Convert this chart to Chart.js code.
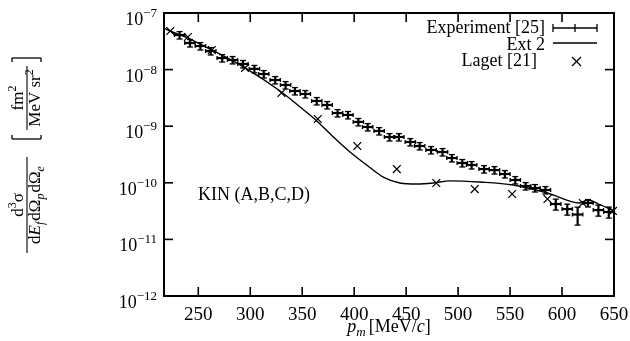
<!DOCTYPE html>
<html>
<head>
<meta charset="utf-8">
<script src="https://cdn.jsdelivr.net/npm/chart.js@4.4.0/dist/chart.umd.min.js"></script>
<style>
  html, body { margin: 0; background: #fff; }
</style>
</head>
<body>
<canvas id="myChart" width="630" height="341"></canvas>
<script>
// data
const xTicks = [250, 300, 350, 400, 450, 500, 550, 600, 650];
const yExponents = [-12, -11, -10, -9, -8, -7];

// Experiment [25], p_m in MeV/c, cross section, relative error
const expP = [232, 242, 252, 262, 273, 283, 293, 304, 313, 324, 334, 343, 353, 364, 374, 384, 394, 404, 413, 424,
  434, 443, 454, 463, 474, 485, 494, 504, 513, 525, 535, 545, 555, 565, 574, 584, 594, 605, 615, 625, 635, 645];
const expVal = [4.08e-8, 2.95e-8, 2.61e-8, 2.13e-8, 1.60e-8, 1.48e-8, 1.26e-8, 1.03e-8, 8.36e-9, 6.55e-9,
  5.34e-9, 4.19e-9, 3.71e-9, 2.79e-9, 2.37e-9, 1.71e-9, 1.58e-9, 1.19e-9, 9.68e-10, 8.22e-10,
  6.44e-10, 6.44e-10, 5.26e-10, 4.47e-10, 3.80e-10, 3.50e-10, 2.74e-10, 2.24e-10, 2.06e-10, 1.75e-10,
  1.68e-10, 1.43e-10, 1.12e-10, 8.77e-11, 8.09e-11, 7.46e-11, 4.22e-11, 3.44e-11, 2.75e-11, 4.40e-11,
  3.30e-11, 3.05e-11];
const expErr = [0.15, 0.15, 0.15, 0.15, 0.15, 0.15, 0.15, 0.15, 0.15, 0.15, 0.15, 0.15, 0.15, 0.15, 0.15,
  0.15, 0.15, 0.15, 0.15, 0.15, 0.15, 0.15, 0.15, 0.15, 0.15, 0.15, 0.15, 0.15, 0.15, 0.15, 0.15, 0.15,
  0.15, 0.15, 0.15, 0.15, 0.22, 0.22, 0.35, 0.15, 0.22, 0.22];
const expBin = 5; // half width of the p_m bin

// Ext 2 curve
const ext2P = [217, 223, 240, 263, 295, 330, 348, 364, 380, 396, 412, 428, 444, 460, 476, 492, 521, 553, 586, 617, 625, 637, 650];
const ext2Val = [5.43e-8, 4.81e-8, 3.61e-8, 2.22e-8, 1.07e-8, 4.02e-9, 2.18e-9, 1.24e-9, 6.44e-10, 3.50e-10,
  2.06e-10, 1.26e-10, 9.91e-11, 9.52e-11, 9.91e-11, 1.08e-10, 1.03e-10, 9.14e-11, 6.61e-11, 4.40e-11,
  4.97e-11, 4.06e-11, 3.18e-11];

// Laget [21]
const lagetP = [223, 240, 263, 295, 330, 365, 403, 441, 479, 516, 552, 586, 620, 649];
const lagetVal = [4.81e-8, 3.77e-8, 2.22e-8, 1.07e-8, 3.86e-9, 1.34e-9, 4.47e-10, 1.75e-10, 9.91e-11,
  7.76e-11, 6.34e-11, 5.17e-11, 4.40e-11, 3.18e-11];

const SERIF = '"Liberation Serif", "Times New Roman", serif';

// draws a run of text pieces (for super/subscripts)
function drawRich(c, parts, x, y, align) {
  let w = 0;
  parts.forEach(p => { c.font = p.f; w += c.measureText(p.t).width + (p.gap || 0); });
  let cx = align === 'right' ? x - w : align === 'center' ? x - w / 2 : x;
  parts.forEach(p => {
    c.font = p.f;
    c.fillText(p.t, cx, y + (p.dy || 0));
    cx += c.measureText(p.t).width + (p.gap || 0);
  });
  return w;
}

function line(c, x1, y1, x2, y2) {
  c.beginPath();
  c.moveTo(x1, y1);
  c.lineTo(x2, y2);
  c.stroke();
}

const errorBars = {
  id: 'errorBars',
  afterDatasetsDraw(chart) {
    const c = chart.ctx, xs = chart.scales.x, ys = chart.scales.y;
    c.save();
    c.strokeStyle = '#000';
    expP.forEach((p, i) => {
      const v = expVal[i];
      const px = xs.getPixelForValue(p), py = ys.getPixelForValue(v);
      const xl = xs.getPixelForValue(p - expBin), xr = xs.getPixelForValue(p + expBin);
      const yl = ys.getPixelForValue(v * (1 - expErr[i])), yh = ys.getPixelForValue(v * (1 + expErr[i]));
      c.lineWidth = 2.2;
      line(c, xl, py, xr, py);
      line(c, px, yl, px, yh);
      c.lineWidth = 1.3;
      line(c, px - 3, yl, px + 3, yl);
      line(c, px - 3, yh, px + 3, yh);
      line(c, xl, py - 2, xl, py + 2);
      line(c, xr, py - 2, xr, py + 2);
    });
    c.restore();
  }
};

const decorations = {
  id: 'decorations',
  afterDraw(chart) {
    const c = chart.ctx, a = chart.chartArea, xs = chart.scales.x, ys = chart.scales.y;
    c.save();
    c.strokeStyle = '#000';
    c.fillStyle = '#000';
    c.textAlign = 'left';
    c.textBaseline = 'alphabetic';

    // frame and inward ticks
    c.lineWidth = 2;
    c.strokeRect(a.left, a.top, a.right - a.left, a.bottom - a.top);
    c.lineWidth = 1.6;
    xTicks.forEach(t => {
      const px = xs.getPixelForValue(t);
      line(c, px, a.bottom, px, a.bottom - 9);
      line(c, px, a.top, px, a.top + 9);
      drawRich(c, [{ t: String(t), f: '19px ' + SERIF }], px, 320, 'center');
    });
    yExponents.forEach(e => {
      const py = ys.getPixelForValue(Math.pow(10, e));
      line(c, a.left, py, a.left + 9, py);
      line(c, a.right, py, a.right - 9, py);
      drawRich(c, [
        { t: '10', f: '18px ' + SERIF },
        { t: '\u2212' + Math.abs(e), f: '13px ' + SERIF, dy: -8 }
      ], 157, py + 12, 'right');
    });

    // x axis title
    drawRich(c, [
      { t: 'p', f: 'italic 18px ' + SERIF },
      { t: 'm', f: 'italic 13px ' + SERIF, dy: 4, gap: 3 },
      { t: '[MeV/', f: '18px ' + SERIF },
      { t: 'c', f: 'italic 18px ' + SERIF },
      { t: ']', f: '18px ' + SERIF }
    ], (a.left + a.right) / 2, 332, 'center');

    // y axis title, rotated
    c.save();
    c.translate(27, 155);
    c.rotate(-Math.PI / 2);
    c.lineWidth = 1.1;
    const f17 = '17px ' + SERIF, i17 = 'italic 17px ' + SERIF, s12 = '12px ' + SERIF, is12 = 'italic 12px ' + SERIF;
    drawRich(c, [
      { t: 'd', f: f17 }, { t: '3', f: s12, dy: -7 }, { t: '\u03c3', f: f17 }
    ], -50, -4, 'center');
    line(c, -98, 0, -2, 0);
    drawRich(c, [
      { t: 'd', f: f17 }, { t: 'E', f: i17 }, { t: 'f', f: is12, dy: 4, gap: 1 },
      { t: 'd\u03a9', f: f17 }, { t: 'p', f: is12, dy: 4, gap: 1 },
      { t: 'd\u03a9', f: f17 }, { t: 'e', f: is12, dy: 4 }
    ], -50, 13, 'center');
    // bracketed unit
    drawRich(c, [
      { t: 'fm', f: f17 }, { t: '2', f: s12, dy: -7 }
    ], 57, -4, 'center');
    line(c, 25, 0, 89, 0);
    drawRich(c, [
      { t: 'MeV sr', f: f17 }, { t: '2', f: s12, dy: -7 }
    ], 57, 13, 'center');
    c.lineWidth = 1.3;
    line(c, 16, -15, 16, 14);
    line(c, 16, -15, 20, -15);
    line(c, 16, 14, 20, 14);
    line(c, 97, -15, 97, 14);
    line(c, 97, -15, 93, -15);
    line(c, 97, 14, 93, 14);
    c.restore();

    // label inside the plot
    drawRich(c, [{ t: 'KIN (A,B,C,D)', f: '18px ' + SERIF }], 198, 200, 'left');

    // legend
    c.lineWidth = 1.3;
    drawRich(c, [{ t: 'Experiment [25]', f: '18px ' + SERIF }], 545, 33, 'right');
    line(c, 553, 28, 597, 28);
    [553, 575, 597].forEach(x => line(c, x, 24, x, 32));
    drawRich(c, [{ t: 'Ext 2', f: '18px ' + SERIF }], 545, 50, 'right');
    line(c, 553, 43, 597, 43);
    drawRich(c, [{ t: 'Laget [21]', f: '18px ' + SERIF }], 537, 66, 'right');
    line(c, 572, 57, 581, 66);
    line(c, 572, 66, 581, 57);
    c.restore();
  }
};

const ctx = document.getElementById('myChart');

new Chart(ctx, {
  type: 'scatter',
  data: {
    datasets: [
      {
        label: 'Experiment [25]',
        data: expP.map((p, i) => ({ x: p, y: expVal[i] })),
        pointRadius: 0,
        showLine: false
      },
      {
        label: 'Ext 2',
        data: ext2P.map((p, i) => ({ x: p, y: ext2Val[i] })),
        showLine: true,
        pointRadius: 0,
        borderColor: '#000',
        borderWidth: 1.4,
        cubicInterpolationMode: 'monotone'
      },
      {
        label: 'Laget [21]',
        data: lagetP.map((p, i) => ({ x: p, y: lagetVal[i] })),
        showLine: false,
        pointStyle: 'crossRot',
        pointRadius: 5.5,
        borderColor: '#000',
        borderWidth: 1.3,
        clip: false
      }
    ]
  },
  options: {
    responsive: false,
    animation: false,
    layout: { padding: { left: 164, top: 13, right: 16, bottom: 45 } },
    plugins: {
      legend: { display: false },
      tooltip: { enabled: false }
    },
    scales: {
      x: { type: 'linear', min: 217, max: 650, display: false },
      y: { type: 'logarithmic', min: 1e-12, max: 1e-7, display: false }
    }
  },
  plugins: [errorBars, decorations]
});
</script>
</body>
</html>
